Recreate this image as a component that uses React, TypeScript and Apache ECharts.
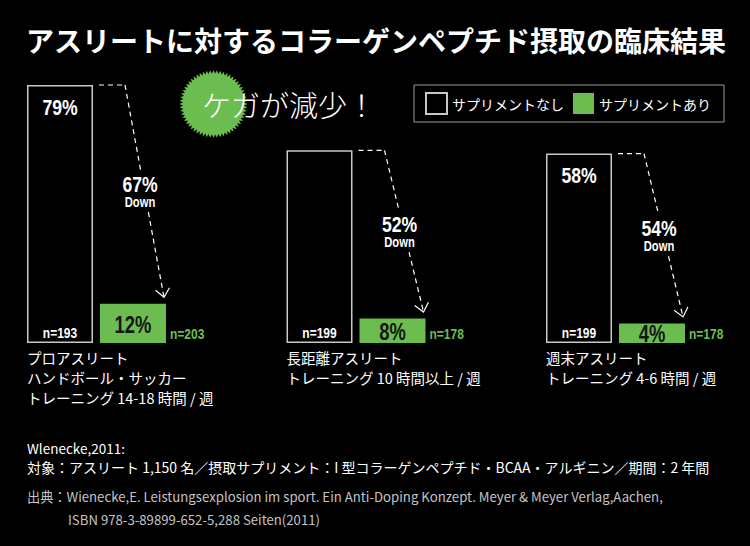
import React, { useEffect, useRef } from "react";
import * as echarts from "echarts";

// ---- data ----
const categories = [
  "プロアスリート\nハンドボール・サッカー\nトレーニング 14-18 時間 / 週",
  "長距離アスリート\nトレーニング 10 時間以上 / 週",
  "週末アスリート\nトレーニング 4-6 時間 / 週",
];
const seriesNames = ["サプリメントなし", "サプリメントあり"];
const noSupplement = [79, 59, 58];
const withSupplement = [12, 7.5, 6];
const noSuppLabels = ["79%", "", "58%"];
const withSuppLabels = ["12%", "8%", "4%"];
const nNoSupp = [193, 199, 199];
const nWithSupp = [203, 178, 178];
const downPct = [67, 52, 54];

const titleText = "アスリートに対するコラーゲンペプチド摂取の臨床結果";
const badgeText = "ケガが減少！";
const footer1 = "Wlenecke,2011:";
const footer2 =
  "対象：アスリート 1,150 名／摂取サプリメント：I 型コラーゲンペプチド・BCAA・アルギニン／期間：2 年間";
const source1 =
  "出典：Wienecke,E. Leistungsexplosion im sport. Ein Anti-Doping Konzept. Meyer & Meyer Verlag,Aachen,";
const source2 = "ISBN 978-3-89899-652-5,288 Seiten(2011)";

// ---- style ----
const GREEN = "#6cbd50";
const FONT_COND = "'Liberation Sans',Arial,sans-serif";
const COND = 0.8;
const FONT_JP = "'Noto Sans CJK JP','Noto Sans',sans-serif";
const BAR_W = 66;
const BAR_GAP = 7;

export default function App() {
  const ref = useRef<HTMLDivElement>(null);
  useEffect(() => {
    if (!ref.current) return;
    const chart = echarts.init(ref.current, null, { renderer: "svg" });
    chart.setOption({
      animation: false,
      backgroundColor: "#000",
      grid: { left: -33.25, right: 4.75, top: 16.4, bottom: 203, outerBoundsMode: "none", containLabel: false },
      xAxis: { type: "category", data: categories, show: false },
      yAxis: { type: "value", min: 0, max: 100, show: false },
      legend: {
        left: 414,
        top: 85,
        padding: [7, 13, 7, 11],
        borderColor: "#9a9a9a",
        borderWidth: 1,
        itemWidth: 21,
        itemHeight: 21,
        itemGap: 9,
        icon: "rect",
        textStyle: { color: "#fff", fontSize: 14, fontFamily: FONT_JP },
        data: seriesNames,
      },
      series: [
        {
          name: seriesNames[0],
          type: "bar",
          data: noSupplement,
          barWidth: BAR_W,
          barGap: (BAR_GAP / BAR_W) * 100 + "%",
          itemStyle: { color: "#000", borderColor: "#c8c8c8", borderWidth: 1.5 },
        },
        {
          name: seriesNames[1],
          type: "bar",
          data: withSupplement,
          barWidth: BAR_W,
          barGap: (BAR_GAP / BAR_W) * 100 + "%",
          itemStyle: { color: GREEN },
        },
      ],
    });

    const condText = (x: number, y: number, text: string, size: number, fill: string, align = "center") => ({
      type: "text", x, y, scaleX: COND, z: 5,
      style: { text, fill, fontSize: size, fontWeight: "bold", fontFamily: FONT_COND, align, verticalAlign: "middle" },
    });

    const g: any[] = [];
    // starburst badge
    const cx = 213.5, cy = 104, N = 60, rOut = 34, rIn = 30.5;
    const pts: number[][] = [];
    for (let k = 0; k < 2 * N; k++) {
      const a = (k * Math.PI) / N;
      const r = k % 2 === 0 ? rOut : rIn;
      pts.push([cx + r * Math.cos(a), cy + r * Math.sin(a)]);
    }
    g.push({ type: "polygon", shape: { points: pts }, style: { fill: GREEN }, z: 1 });
    g.push({
      type: "text", x: 202, y: 104, z: 2,
      style: { text: badgeText, fill: "#fff", fontSize: 29, fontFamily: FONT_JP, fontWeight: 300, verticalAlign: "middle" },
    });
    // title
    g.push({
      type: "text", x: 376, y: 40,
      style: { text: titleText, fill: "#fff", fontSize: 28, fontWeight: "bold", fontFamily: FONT_JP, align: "center", verticalAlign: "middle" },
    });

    const dash = [5, 4];
    for (let i = 0; i < categories.length; i++) {
      const [bandX, topBlack] = chart.convertToPixel({ gridIndex: 0 }, [i, noSupplement[i]]) as number[];
      const [, topGreen] = chart.convertToPixel({ gridIndex: 0 }, [i, withSupplement[i]]) as number[];
      const [, base] = chart.convertToPixel({ gridIndex: 0 }, [i, 0]) as number[];
      const blackLeft = bandX - (2 * BAR_W + BAR_GAP) / 2;
      const blackCenter = blackLeft + BAR_W / 2;
      const greenLeft = blackLeft + BAR_W + BAR_GAP;
      const greenCenter = greenLeft + BAR_W / 2;
      const greenRight = greenLeft + BAR_W;

      // value labels
      if (noSuppLabels[i]) g.push(condText(blackCenter, topBlack + 22, noSuppLabels[i], 22, "#fff"));
      g.push(condText(greenCenter, (topGreen + base) / 2 + 1, withSuppLabels[i], 23, "#151515"));
      // n labels
      g.push(condText(blackCenter, base - 10, "n=" + nNoSupp[i], 15, "#fff"));
      g.push(condText(greenRight + 4, base - 9, "n=" + nWithSupp[i], 15, GREEN, "left"));

      // arrow
      const sx = greenLeft + 25, sy = topBlack;
      const ex = greenLeft + 64, ey = topGreen - 6.5;
      const lineStyle = { stroke: "#fff", lineWidth: 1.2, lineDash: dash, fill: null };
      g.push({ type: "polyline", shape: { points: [[greenLeft - 1, sy], [sx, sy]] }, style: lineStyle });
      const midY = (sy + ey) / 2;
      const gapHalf = 21;
      const t1 = (midY - gapHalf - sy) / (ey - sy);
      const t2 = (midY + gapHalf - sy) / (ey - sy);
      g.push({ type: "line", shape: { x1: sx, y1: sy, x2: sx + (ex - sx) * t1, y2: sy + (ey - sy) * t1 }, style: lineStyle });
      g.push({ type: "line", shape: { x1: sx + (ex - sx) * t2, y1: sy + (ey - sy) * t2, x2: ex, y2: ey }, style: lineStyle });
      const len = Math.hypot(ex - sx, ey - sy);
      const ux = -(ex - sx) / len, uy = -(ey - sy) / len;
      const armLen = 11, ang = (40 * Math.PI) / 180;
      const rot = (a: number) => [ux * Math.cos(a) - uy * Math.sin(a), ux * Math.sin(a) + uy * Math.cos(a)];
      const a1 = rot(ang), a2 = rot(-ang);
      g.push({
        type: "polyline",
        shape: { points: [[ex + a1[0] * armLen, ey + a1[1] * armLen], [ex, ey], [ex + a2[0] * armLen, ey + a2[1] * armLen]] },
        style: { stroke: "#fff", lineWidth: 1.2, fill: null },
      });
      g.push(condText(greenLeft + 40, midY - 7, downPct[i] + "%", 22, "#fff"));
      g.push(condText(greenLeft + 40, midY + 11, "Down", 14, "#fff"));

      // category label
      g.push({
        type: "text", x: blackLeft, y: 347,
        style: { text: categories[i], fill: "#fff", fontSize: 14.5, lineHeight: 20, fontFamily: FONT_JP, align: "left", verticalAlign: "top" },
      });
    }

    // footer
    g.push({ type: "text", x: 27, y: 448, style: { text: footer1, fill: "#fff", fontSize: 13.5, fontFamily: FONT_JP, verticalAlign: "middle" } });
    g.push({ type: "text", x: 27, y: 467, style: { text: footer2, fill: "#fff", fontSize: 14, fontFamily: FONT_JP, verticalAlign: "middle" } });
    g.push({ type: "text", x: 27, y: 496, style: { text: source1, fill: "#c4c4c4", fontSize: 13.2, fontFamily: FONT_JP, verticalAlign: "middle" } });
    g.push({ type: "text", x: 68, y: 519, style: { text: source2, fill: "#c4c4c4", fontSize: 13.2, fontFamily: FONT_JP, verticalAlign: "middle" } });

    chart.setOption({ graphic: g });
    return () => chart.dispose();
  }, []);
  return (
    <div
      ref={ref}
      style={{ position: "fixed", left: 0, top: 0, width: 750, height: 546, background: "#000" }}
    />
  );
}
